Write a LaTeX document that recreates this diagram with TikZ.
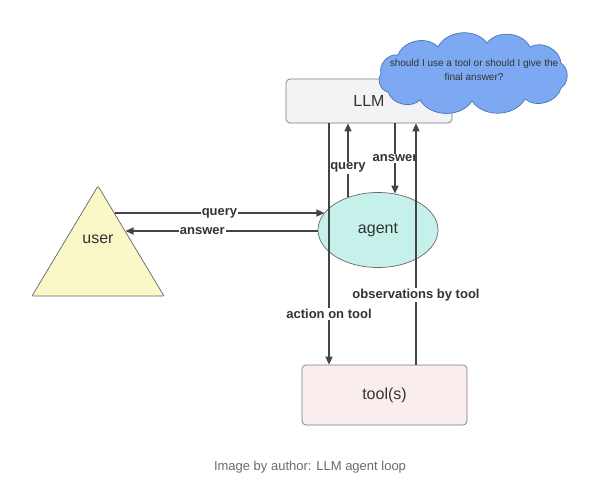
\documentclass[tikz,border=0pt]{standalone}
\usepackage{fontspec}
\setmainfont{Liberation Sans}
\usetikzlibrary{shapes.geometric,arrows.meta}
\definecolor{llmfill}{HTML}{F3F3F5}
\definecolor{cloudfill}{HTML}{7DA9F2}
\definecolor{cloudline}{HTML}{4C72B8}
\definecolor{agentfill}{HTML}{C6F1EB}
\definecolor{toolfill}{HTML}{FAEDED}
\definecolor{userfill}{HTML}{FAF7C9}
\definecolor{ink}{HTML}{444444}
\definecolor{txt}{HTML}{333333}
\definecolor{capgray}{HTML}{6B6B6B}
\tikzset{
  box/.style={draw=ink!70, line width=0.7pt, rounded corners=4pt, text=txt, font=\fontsize{16}{18}\selectfont},
  arr/.style={draw=ink, line width=1.4pt, -{Triangle[width=7pt,length=8pt]}},
  lbl/.style={fill=white, inner sep=1pt, text=txt, font=\fontsize{13}{15}\selectfont\bfseries},
  puff/.style={bend left=58},
}
\begin{document}
\begin{tikzpicture}[x=1pt,y=-1pt]
\useasboundingbox (0,0) rectangle (612,482);
\fill[white] (0,0) rectangle (612,482);
% nodes
\node[box, fill=llmfill, minimum width=166pt, minimum height=44pt] (llm) at (369,101) {LLM};
\draw[draw=cloudline, line width=0.7pt, fill=cloudfill]
  (381,74) to[puff] (398,55) to[puff] (438,47) to[puff] (487,43) to[puff] (530,47)
  to[puff] (561,63) to[puff] (561,88) to[puff] (525,99) to[puff] (472,101)
  to[puff] (420,100) to[puff] (388,92) to[puff] (381,74) -- cycle;
\node[text=txt, align=center, font=\fontsize{10}{14}\selectfont] (cloudtext) at (474,70) {should I use a tool or should I give the\\final answer?};
\node[ellipse, draw=ink!80, line width=0.7pt, fill=agentfill, minimum width=120pt, minimum height=75pt,
      text=txt, font=\fontsize{16}{18}\selectfont] (agent) at (378,230) {agent};
\node[box, fill=toolfill, minimum width=165pt, minimum height=60pt] (tool) at (384.5,395) {tool(s)};
\draw[draw=ink!80, line width=0.7pt, fill=userfill, rounded corners=1pt] (98,186) -- (164,296) -- (32,296) -- cycle;
\node[text=txt, font=\fontsize{16}{18}\selectfont] (user) at (98,239) {user};
\coordinate (uq) at (114.5,213);
\coordinate (ua) at (125.5,231);
\coordinate (xa) at (329,0);
\coordinate (xq) at (348,0);
\coordinate (xn) at (395,0);
\coordinate (xo) at (416,0);
% user <-> agent
\draw[arr] (uq) -- node[lbl, pos=0.5] {query} (uq -| agent.162);
\draw[arr] (agent.west |- ua) -- node[lbl, pos=0.6] {answer} (ua);
% agent <-> LLM
\draw[arr] (xq |- agent.133) -- node[lbl, pos=0.4] {query} (xq |- llm.south);
\draw[arr] (xn |- llm.south) -- node[lbl, pos=0.5] {answer} (xn |- agent.65);
% LLM/tool
\draw[arr] (llm.south -| xa) -- node[lbl, pos=0.79] {action on tool} (tool.north -| xa);
\draw[arr] (tool.north -| xo) -- node[lbl, pos=0.29] {observations by tool} (llm.south -| xo);
% caption
\node[text=capgray, font=\fontsize{13}{15}\selectfont] (cap) at (310,467) {Image by author: LLM agent loop};
\end{tikzpicture}
\end{document}
